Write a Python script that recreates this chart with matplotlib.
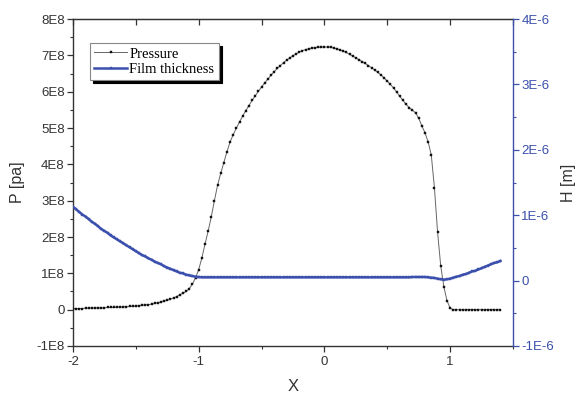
import numpy as np
import matplotlib
matplotlib.use("Agg")
import matplotlib.pyplot as plt
from matplotlib.ticker import MultipleLocator, FuncFormatter

# ---------------- data ----------------
x = np.round(np.arange(-2.0, 1.4001, 0.025), 3)

pressure_e8 = [
    0.03, 0.03, 0.03, 0.03, 0.04, 0.04, 0.04, 0.04, 0.05, 0.05,   # -2.000 .. -1.775
    0.05, 0.06, 0.06, 0.06, 0.07, 0.07, 0.08, 0.08, 0.09, 0.09,   # -1.750 .. -1.525
    0.10, 0.11, 0.12, 0.13, 0.14, 0.15, 0.17, 0.19, 0.21, 0.23,   # -1.500 .. -1.275
    0.26, 0.29, 0.32, 0.36, 0.41, 0.45, 0.50, 0.58, 0.70, 0.88,   # -1.250 .. -1.025
    1.10, 1.42, 1.80, 2.16, 2.55, 3.00, 3.42, 3.75, 4.05, 4.35,   # -1.000 .. -0.775
    4.62, 4.82, 5.00, 5.17, 5.33, 5.48, 5.62, 5.76, 5.89, 6.01,   # -0.750 .. -0.525
    6.13, 6.24, 6.35, 6.45, 6.55, 6.64, 6.72, 6.80, 6.87, 6.93,   # -0.500 .. -0.275
    6.99, 7.04, 7.09, 7.13, 7.16, 7.18, 7.20, 7.21, 7.22, 7.23,   # -0.250 .. -0.025
    7.23, 7.23, 7.22, 7.20, 7.18, 7.15, 7.12, 7.08, 7.03, 6.98,   #  0.000 ..  0.225
    6.93, 6.88, 6.83, 6.78, 6.72, 6.66, 6.60, 6.53, 6.46, 6.38,   #  0.250 ..  0.475
    6.29, 6.20, 6.10, 5.99, 5.87, 5.76, 5.65, 5.56, 5.49, 5.42,   #  0.500 ..  0.725
    5.27, 5.06, 4.87, 4.62, 4.26, 3.36, 2.14, 1.21, 0.63, 0.25,   #  0.750 ..  0.975
    0.04, 0.00, 0.00, 0.00, 0.00, 0.00, 0.00, 0.00, 0.00, 0.00,   #  1.000 ..  1.225
    0.00, 0.00, 0.00, 0.00, 0.00, 0.00, 0.00,                     #  1.250 ..  1.400
]

thickness_e6 = [
    1.13, 1.09, 1.05, 1.01, 0.98, 0.94, 0.90, 0.87, 0.83, 0.79,   # -2.000 .. -1.775
    0.76, 0.73, 0.69, 0.66, 0.63, 0.60, 0.57, 0.54, 0.51, 0.48,   # -1.750 .. -1.525
    0.45, 0.42, 0.39, 0.37, 0.34, 0.32, 0.29, 0.27, 0.25, 0.22,   # -1.500 .. -1.275
    0.20, 0.18, 0.16, 0.14, 0.12, 0.11, 0.09, 0.08, 0.07, 0.06,   # -1.250 .. -1.025
    0.055, 0.05, 0.05, 0.05, 0.05, 0.05, 0.05, 0.05, 0.05, 0.05,  # -1.000 .. -0.775
    0.05, 0.05, 0.05, 0.05, 0.05, 0.05, 0.05, 0.05, 0.05, 0.05,   # -0.750 .. -0.525
    0.05, 0.05, 0.05, 0.05, 0.05, 0.05, 0.05, 0.05, 0.05, 0.05,   # -0.500 .. -0.275
    0.05, 0.05, 0.05, 0.05, 0.05, 0.05, 0.05, 0.05, 0.05, 0.05,   # -0.250 .. -0.025
    0.05, 0.05, 0.05, 0.05, 0.05, 0.05, 0.05, 0.05, 0.05, 0.05,   #  0.000 ..  0.225
    0.05, 0.05, 0.05, 0.05, 0.05, 0.05, 0.05, 0.05, 0.05, 0.05,   #  0.250 ..  0.475
    0.05, 0.05, 0.05, 0.05, 0.05, 0.05, 0.05, 0.05, 0.055, 0.055, #  0.500 ..  0.725
    0.055, 0.055, 0.055, 0.05, 0.045, 0.04, 0.03, 0.02, 0.015, 0.02, # 0.750 .. 0.975
    0.03, 0.045, 0.06, 0.07, 0.09, 0.10, 0.12, 0.14, 0.15, 0.17,  #  1.000 ..  1.225
    0.19, 0.21, 0.23, 0.25, 0.27, 0.28, 0.30,                     #  1.250 ..  1.400
]

pressure = np.array(pressure_e8) * 1e8
thickness = np.array(thickness_e6) * 1e-6

x_ticks = [-2, -1, 0, 1]
p_ticks = [-1e8, 0, 1e8, 2e8, 3e8, 4e8, 5e8, 6e8, 7e8, 8e8]
h_ticks = [-1e-6, 0, 1e-6, 2e-6, 3e-6, 4e-6]

# ---------------- style ----------------
BLUE = "#3B4FAC"
DARK = "#333333"
plt.rcParams["font.family"] = ["Liberation Sans", "DejaVu Sans"]
plt.rcParams["axes.unicode_minus"] = False

fig = plt.figure(figsize=(5.79, 3.97), dpi=100)
ax = fig.add_axes([0.126, 0.1285, 0.76, 0.8235])
ax2 = ax.twinx()

lp, = ax.plot(x, pressure, color="#666666", lw=0.7, marker="s", ms=1.9,
              mfc="#111111", mec="#111111", mew=0.3, label="Pressure", zorder=3)
lh, = ax2.plot(x, thickness, color=BLUE, lw=1.8, marker="s", ms=1.9,
               mfc=BLUE, mec=BLUE, mew=0.3, label="Film thickness", zorder=2)

ax.set_xlim(-2, 1.5)
ax.set_ylim(-1e8, 8e8)
ax2.set_ylim(-1e-6, 4e-6)

def sci_fmt(v, pos):
    if abs(v) < 1e-20:
        return "0"
    exp = int(np.floor(np.log10(abs(v)) + 1e-9))
    mant = v / 10**exp
    return f"{mant:.0f}E{exp}"

ax.set_xticks(x_ticks)
ax.xaxis.set_minor_locator(MultipleLocator(0.5))
ax.set_yticks(p_ticks)
ax.yaxis.set_minor_locator(MultipleLocator(0.5e8))
ax.yaxis.set_major_formatter(FuncFormatter(sci_fmt))
ax2.set_yticks(h_ticks)
ax2.yaxis.set_minor_locator(MultipleLocator(0.5e-6))
ax2.yaxis.set_major_formatter(FuncFormatter(sci_fmt))

ax.tick_params(axis="both", which="major", direction="out", length=4,
               width=0.9, labelsize=9.5, colors=DARK)
ax.tick_params(axis="both", which="minor", direction="out", length=2.5,
               width=0.8, colors=DARK)
ax.tick_params(axis="x", pad=3)
ax.tick_params(axis="y", pad=2)
ax2.tick_params(axis="y", which="major", direction="out", length=4, width=0.9,
                labelsize=9.5, colors=BLUE, pad=2)
ax2.tick_params(axis="y", which="minor", direction="out", length=2.5,
                width=0.8, colors=BLUE)

# top inward ticks
top = ax.secondary_xaxis("top")
top.set_xticks(x_ticks)
top.xaxis.set_minor_locator(MultipleLocator(0.5))
top.tick_params(which="both", direction="in", length=4, width=0.9,
                labeltop=False, colors=DARK)
top.spines["top"].set_color(DARK)

for s in ["left", "bottom", "top"]:
    ax.spines[s].set_color(DARK)
    ax.spines[s].set_linewidth(1.0)
ax.spines["right"].set_visible(False)
for s in ["left", "bottom", "top"]:
    ax2.spines[s].set_visible(False)
ax2.spines["right"].set_color(BLUE)
ax2.spines["right"].set_linewidth(1.0)

ax.set_xlabel("X", fontsize=12, color=DARK, labelpad=8)
ax.set_ylabel("P [pa]", fontsize=11.5, color=DARK, labelpad=8)
ax2.set_ylabel("H [m]", fontsize=11.5, color=DARK, labelpad=5)

leg = ax.legend(handles=[lp, lh], loc="upper left",
                bbox_to_anchor=(0.039, 0.927), fancybox=False,
                prop={"family": "Liberation Serif", "size": 10.5},
                edgecolor="#888888", framealpha=1, borderpad=0.3,
                labelspacing=0.15, handlelength=2.2, handletextpad=0.2,
                borderaxespad=0, shadow={"color": "black", "alpha": 1})
leg.get_frame().set_linewidth(0.8)
leg.set_zorder(10)

fig.savefig("out.png", dpi=100)
